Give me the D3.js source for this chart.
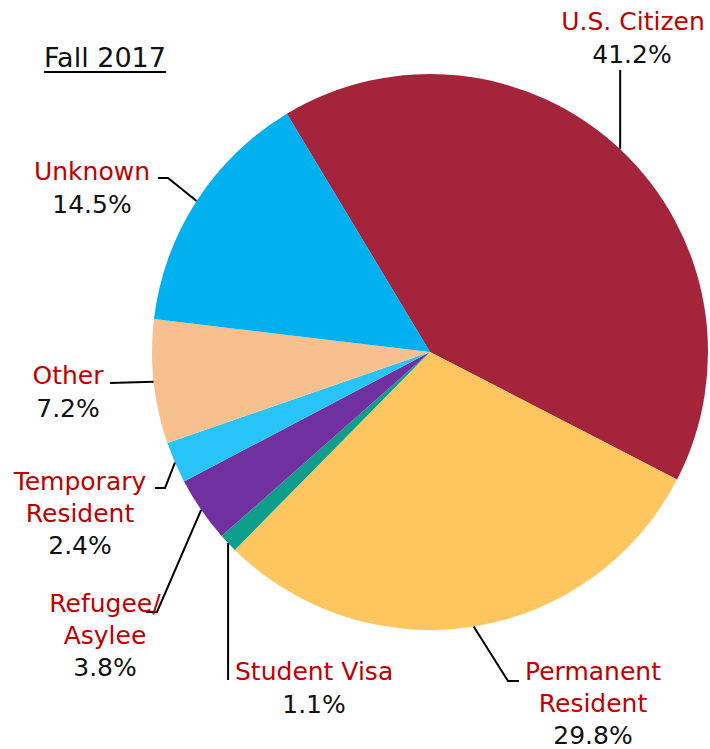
<!DOCTYPE html>
<html>
<head>
<meta charset="utf-8">
<script src="https://cdn.jsdelivr.net/npm/d3@7"></script>
<style>
  body { margin: 0; background: #fff; }
  text { font-family: "DejaVu Sans", sans-serif; }
</style>
</head>
<body>
<div id="chart"></div>
<script>
// data
let categories = ['U.S. Citizen', 'Permanent Resident', 'Student Visa', 'Refugee/ Asylee', 'Temporary Resident', 'Other', 'Unknown']
let values = [41.2, 29.8, 1.1, 3.8, 2.4, 7.2, 14.5]
let colors = ['#A4243B', '#FFC660', '#0E9E8B', '#7030A0', '#28C4F8', '#F8C08F', '#00B0EF']
let title = 'Fall 2017'

// label lines (name lines) and where they sit
let labelLines = [['U.S. Citizen'], ['Permanent', 'Resident'], ['Student Visa'], ['Refugee/', 'Asylee'], ['Temporary', 'Resident'], ['Other'], ['Unknown']]

let width = 710, height = 749
let cx = 430, cy = 352, radius = 278

let svg = d3.select('#chart').append('svg')
	.attr('width', width)
	.attr('height', height)

let pie = d3.pie()
	.sort(null)
	.value(d => d.value)
	.startAngle(-31 * Math.PI / 180)
	.endAngle(329 * Math.PI / 180)

let arc = d3.arc().innerRadius(0).outerRadius(radius)

let rows = categories.map((c, i) => ({name: c, value: values[i], color: colors[i], lines: labelLines[i]}))
let arcs = pie(rows)

let g = svg.append('g').attr('transform', 'translate(' + cx + ',' + cy + ')')

g.selectAll('path')
	.data(arcs)
	.enter()
	.append('path')
	.attr('d', arc)
	.attr('fill', d => d.data.color)

// layout of labels: leader bend points + text anchor
let layout = {
	'U.S. Citizen':       {pts: [[619, 70]], tx: 633, ty: 30, anchor: 'middle', px: 632},
	'Permanent Resident': {pts: [[508, 681], [519, 681]], tx: 593, ty: 680, anchor: 'middle', px: 593},
	'Student Visa':       {pts: [[230, 680]], tx: 235, ty: 680, anchor: 'start', px: 314},
	'Refugee/ Asylee':    {pts: [[157, 612], [146, 612]], tx: 105, ty: 612, anchor: 'middle', px: 105},
	'Temporary Resident': {pts: [[165, 488], [155, 488]], tx: 80, ty: 490, anchor: 'middle', px: 80},
	'Other':              {pts: [[110, 383]], tx: 68, ty: 384, anchor: 'middle', px: 68},
	'Unknown':            {pts: [[168, 178], [158, 178]], tx: 92, ty: 180, anchor: 'middle', px: 92}
}

let lineH = 31.5

arcs.forEach(function(d){
	let L = layout[d.data.name]
	let mid = (d.startAngle + d.endAngle) / 2
	let start = [cx + radius * Math.sin(mid), cy - radius * Math.cos(mid)]
	let pts = [start].concat(L.pts)
	// vertical leaders keep x of slice edge
	if(L.pts.length == 1 && (d.data.name == 'U.S. Citizen' || d.data.name == 'Student Visa')){
		pts = [start, [start[0], L.pts[0][1]]]
	}
	svg.append('path')
		.attr('d', d3.line()(pts))
		.attr('fill', 'none')
		.attr('stroke', '#000')
		.attr('stroke-width', 2)

	d.data.lines.forEach(function(t, i){
		svg.append('text')
			.attr('x', L.tx)
			.attr('y', L.ty + i * lineH)
			.attr('text-anchor', L.anchor)
			.attr('font-size', 25)
			.attr('fill', '#C00000')
			.text(t)
	})
	svg.append('text')
		.attr('x', L.px)
		.attr('y', L.ty + d.data.lines.length * lineH + 1)
		.attr('text-anchor', 'middle')
		.attr('font-size', 25)
		.attr('fill', '#111')
		.text(d.data.value.toFixed(1) + '%')
})

// title
let tt = svg.append('text')
	.attr('x', 105)
	.attr('y', 67)
	.attr('text-anchor', 'middle')
	.attr('font-size', 27)
	.attr('fill', '#111')
	.text(title)
let bb = tt.node().getBBox()
svg.append('line')
	.attr('x1', bb.x).attr('x2', bb.x + bb.width)
	.attr('y1', 72).attr('y2', 72)
	.attr('stroke', '#000')
	.attr('stroke-width', 2)
</script>
</body>
</html>
